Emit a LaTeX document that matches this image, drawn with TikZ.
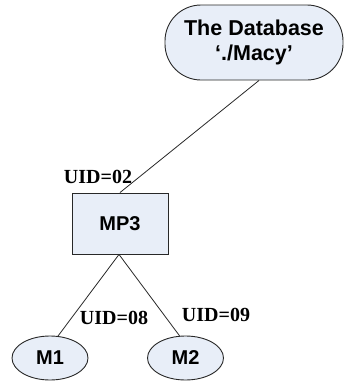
\documentclass[tikz,border=0pt]{standalone}
\usepackage{fontspec}
\setmainfont{Liberation Serif}
\newfontfamily\arialfont{Liberation Sans}
\usetikzlibrary{shapes.geometric}
\definecolor{nodefill}{RGB}{232,238,248}
\definecolor{edgegray}{RGB}{40,40,40}
\tikzset{
  base/.style={draw=edgegray, line width=0.9pt, fill=nodefill, inner sep=0pt,
    font=\arialfont\bfseries\fontsize{20}{24}\selectfont, align=center},
  dbbox/.style={base, rectangle, rounded corners=36pt, minimum width=178pt, minimum height=75pt,
    font=\arialfont\bfseries\fontsize{21.5}{25}\selectfont},
  procbox/.style={base, rectangle, minimum width=96pt, minimum height=61pt},
  leaf/.style={base, ellipse, minimum width=76pt, minimum height=44pt},
  uid/.style={font=\bfseries\fontsize{20}{24}\selectfont, inner sep=0pt},
  link/.style={draw=edgegray, line width=0.8pt}
}
\begin{document}
\begin{tikzpicture}[x=1pt, y=-1pt]
  \useasboundingbox (0,0) rectangle (345,381);
  \node[dbbox] (db) at (254,42.5) {The Database\\‘./Macy’};
  \node[procbox] (mp3) at (120,223.5) {MP3};
  \node[leaf] (m1) at (50,358) {M1};
  \node[leaf] (m2) at (185.5,358) {M2};

  \draw[link] ([xshift=5pt]db.south) -- (mp3.north);
  \draw[link] ([xshift=-1pt]mp3.south) -- (m1.70);
  \draw[link] ([xshift=-1pt]mp3.south) -- (m2.105);

  \node[uid] (u02) at (98,177) {UID=02};
  \node[uid] (u08) at (114,318) {UID=08};
  \node[uid] (u09) at (216,315) {UID=09};
\end{tikzpicture}
\end{document}
